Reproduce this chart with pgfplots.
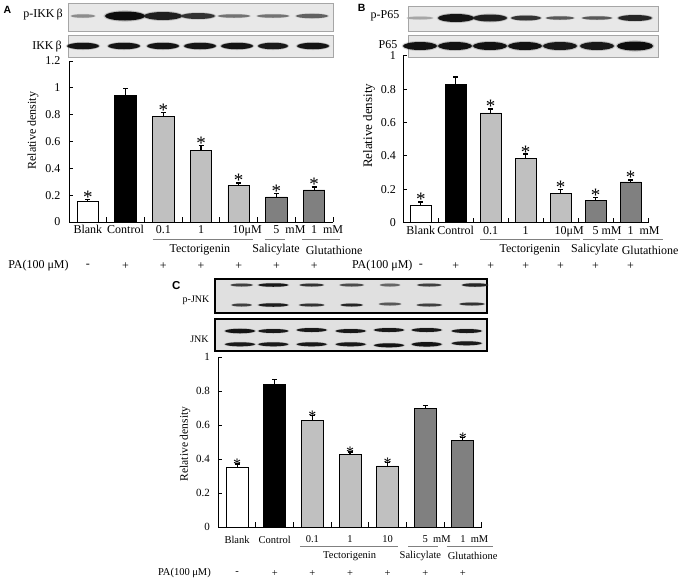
\documentclass[border=0pt]{standalone}
\usepackage{pgfplots}
\pgfplotsset{compat=1.18}
\usepackage{fontspec}
\setmainfont{Liberation Serif}
\newfontfamily\panelfont{Liberation Sans}
\definecolor{lg}{HTML}{C0C0C0}
\definecolor{dg}{HTML}{808080}
\definecolor{blotbg}{HTML}{E8E8E8}
\definecolor{blotbgc}{HTML}{E0E0E0}
\newcommand{\fs}[1]{\fontsize{#1}{#1}\selectfont}
% blot band: x y w h intensity
\newcommand{\band}[5]{%
  \fill[black!#5,opacity=0.2] (#1pt,-#2pt) ellipse ({#3*0.54pt} and {#4*0.62pt});
  \fill[black!#5] (#1pt,-#2pt) ellipse ({#3*0.5pt} and {#4*0.5pt});}
\newcommand{\parow}[1]{%
  \node at ([yshift=#1]axis cs:0,0) {-};
  \node at ([yshift=#1]axis cs:1,0) {+};
  \node at ([yshift=#1]axis cs:2,0) {+};
  \node at ([yshift=#1]axis cs:3,0) {+};
  \node at ([yshift=#1]axis cs:4,0) {+};
  \node at ([yshift=#1]axis cs:5,0) {+};
  \node at ([yshift=#1]axis cs:6,0) {+};}
\tikzset{astar/.style={font=\fs{19}, anchor=base, yshift=-4pt, inner sep=0pt}}
\pgfplotsset{
  panel/.style={scale only axis, clip=false, ymin=0, xmin=-0.5, xmax=6.5,
    axis x line*=bottom, axis y line*=left,
    axis line style={line width=1pt},
    tick align=inside, major tick length=4pt,
    tick style={line width=1pt, black},
    xtick={0,...,6}, xtick style={draw=none},
    extra x ticks={-0.5,0.5,1.5,2.5,3.5,4.5,5.5,6.5},
    extra x tick labels={},
    extra x tick style={xtick style={draw=black}, major tick length=5pt},
  },
  bars/.style={ybar, bar width=#1, bar shift=0pt, draw=black, line width=0.8pt,
    error bars/y dir=plus, error bars/y explicit,
    error bars/error bar style={line width=1.2pt, black},
    error bars/error mark options={rotate=90, mark size=2.5pt, line width=1.2pt, black}},
}
\begin{document}
\begin{tikzpicture}
\useasboundingbox (0,0) rectangle (679pt,-579pt);
% ---------------- Panel A blots
\node[font=\panelfont\bfseries\fs{10.5}] at (7.5pt,-9.5pt) {A};
\filldraw[fill=blotbg, draw=gray!70, line width=0.8pt] (68pt,-3pt) rectangle (333pt,-31pt);
\filldraw[fill=blotbg, draw=gray!70, line width=0.8pt] (68pt,-35pt) rectangle (333pt,-57pt);
\node[font=\fs{12}] at (43pt,-15pt) {p-IKK\,β};
\node[font=\fs{12}] at (47pt,-47pt) {IKK\,β};
\band{83}{16}{24}{3.5}{45}
\band{125}{16}{40}{9}{95}
\band{163}{16}{38}{8}{88}
\band{198}{16}{34}{6}{80}
\band{234}{16}{32}{3.5}{55}
\band{273}{16}{32}{3.5}{55}
\band{312}{16}{32}{4.5}{62}
\band{83}{46}{32}{6.5}{92}
\band{124}{46}{32}{6.5}{92}
\band{163}{46}{32}{6.5}{92}
\band{200}{46}{32}{6.5}{92}
\band{237}{46}{32}{6.5}{92}
\band{273}{46}{30}{6.5}{90}
\band{313}{46}{32}{6.5}{92}
% ---------------- Panel B blots
\node[font=\panelfont\bfseries\fs{10.5}] at (361.7pt,-8pt) {B};
\filldraw[fill=blotbg, draw=gray!70, line width=0.8pt] (408pt,-6pt) rectangle (658pt,-31pt);
\filldraw[fill=blotbg, draw=gray!70, line width=0.8pt] (408pt,-35pt) rectangle (658pt,-57pt);
\node[font=\fs{12}] at (385pt,-16pt) {p-P65};
\node[font=\fs{12}] at (388pt,-45pt) {P65};
\band{420}{18}{26}{3}{35}
\band{456}{18}{36}{8}{92}
\band{490}{18}{34}{7}{88}
\band{526}{18}{30}{5}{80}
\band{560}{18}{28}{3.5}{65}
\band{597}{18}{30}{3.5}{65}
\band{635}{18}{34}{6}{85}
\band{420}{46}{34}{8}{93}
\band{455}{46}{34}{8}{93}
\band{490}{46}{34}{8}{93}
\band{525}{46}{34}{8}{93}
\band{560}{46}{34}{8}{90}
\band{597}{46}{34}{8}{90}
\band{635}{46}{36}{9}{95}
% ---------------- Panel C blots
\node[font=\panelfont\bfseries\fs{11.5}] at (176.3pt,-286pt) {C};
\filldraw[fill=blotbgc, draw=black, line width=1.8pt] (215pt,-279pt) rectangle (486.7pt,-313.3pt);
\filldraw[fill=blotbgc, draw=black, line width=1.8pt] (215pt,-319.3pt) rectangle (486.7pt,-350.7pt);
\node[font=\fs{10}] at (196pt,-300pt) {p-JNK};
\node[font=\fs{10}] at (199.5pt,-339pt) {JNK};
\band{241.7}{285}{22}{3}{75}
\band{273.3}{285}{30}{3.5}{90}
\band{311.7}{285}{24}{3}{80}
\band{351.7}{285}{24}{3}{70}
\band{390}{285}{20}{3}{60}
\band{429.3}{285}{24}{3}{75}
\band{475}{285}{26}{3.5}{85}
\band{241.7}{305}{20}{3}{75}
\band{273.3}{305}{30}{3.5}{88}
\band{311.7}{305}{25}{3}{80}
\band{351.7}{305}{22}{3}{85}
\band{390}{304}{22}{3}{65}
\band{429.3}{305}{25}{3}{75}
\band{472}{304}{25}{3}{80}
\band{240}{331}{30}{4.5}{92}
\band{273.3}{331}{30}{4}{90}
\band{311.7}{330}{30}{4}{90}
\band{350.7}{331}{30}{4}{90}
\band{389}{330}{30}{4}{90}
\band{426.7}{330}{30}{4}{90}
\band{466.7}{331}{30}{4}{90}
\band{240}{344.3}{30}{4}{90}
\band{273.3}{344.3}{30}{4}{90}
\band{311.7}{344.3}{30}{4}{90}
\band{350.7}{344.3}{30}{4}{90}
\band{389}{345.3}{30}{4}{92}
\band{426.7}{344.3}{30}{4.5}{92}
\band{466.7}{343.3}{30}{4}{90}

% ================= Axis A
\begin{axis}[panel, at={(69pt,-222pt)}, anchor=south west, width=264pt, height=161pt, ymax=1.2,
  ytick={0,0.2,0.4,0.6,0.8,1,1.2}, yticklabels={0,0.2,0.4,0.6,0.8,1,1.2},
  xticklabels={Blank,Control,0.1,1,10\rlap{μM},5\rlap{\ \ mM},1\rlap{\ \ mM}},
  ticklabel style={font=\fs{12}}, yticklabel style={xshift=-5pt},
  ylabel={Relative density},
  every axis y label/.style={at={(axis description cs:-0.136,0.568)}, rotate=90, anchor=center, font=\fs{12}}]
\addplot[bars=21.5pt, fill=white] coordinates {(0,0.155) +- (0,0.015)};
\addplot[bars=21.5pt, fill=black] coordinates {(1,0.943) +- (0,0.055)};
\addplot[bars=21.5pt, fill=lg] coordinates {(2,0.784) +- (0,0.035) (3,0.535) +- (0,0.035) (4,0.271) +- (0,0.020)};
\addplot[bars=21.5pt, fill=dg] coordinates {(5,0.187) +- (0,0.024) (6,0.239) +- (0,0.022)};
\node[astar] at (axis cs:0,0.170) {*};
\node[astar] at (axis cs:2,0.819) {*};
\node[astar] at (axis cs:3,0.570) {*};
\node[astar] at (axis cs:4,0.291) {*};
\node[astar] at (axis cs:5,0.211) {*};
\node[astar] at (axis cs:6,0.261) {*};
\draw[gray, line width=0.8pt] ([yshift=-17pt]axis cs:1.72,0) -- ([yshift=-17pt]axis cs:4.38,0);
\draw[gray, line width=0.8pt] ([yshift=-17pt]axis cs:4.69,0) -- ([yshift=-17pt]axis cs:5.22,0);
\draw[gray, line width=0.8pt] ([yshift=-17pt]axis cs:5.68,0) -- ([yshift=-17pt]axis cs:6.68,0);
\begin{scope}[font=\fs{12}]
\node at ([yshift=-28pt]axis cs:2.97,0) {Tectorigenin};
\node at ([yshift=-28pt]axis cs:4.99,0) {Salicylate};
\node at ([yshift=-28pt]axis cs:6.53,0) {Glutathione};
\node at ([yshift=-43.7pt]axis cs:-1.31,0) {PA(100 μM)};
\parow{-43.7pt}
\end{scope}
\end{axis}

% ================= Axis B
\begin{axis}[panel, at={(403.3pt,-222.7pt)}, anchor=south west, width=244.7pt, height=167pt, ymax=1,
  ytick={0,0.2,0.4,0.6,0.8,1}, yticklabels={0,0.2,0.4,0.6,0.8,1},
  xticklabels={Blank,Control,0.1,1,10\rlap{μM},5\rlap{\ mM},1\rlap{\ \ mM}},
  ticklabel style={font=\fs{12}}, yticklabel style={xshift=-4pt},
  ylabel={Relative density},
  every axis y label/.style={at={(axis description cs:-0.14,0.58)}, rotate=90, anchor=center, font=\fs{13}}]
\addplot[bars=21pt, fill=white] coordinates {(0,0.102) +- (0,0.022)};
\addplot[bars=21pt, fill=black] coordinates {(1,0.829) +- (0,0.043)};
\addplot[bars=21pt, fill=lg] coordinates {(2,0.657) +- (0,0.024) (3,0.383) +- (0,0.028) (4,0.176) +- (0,0.024)};
\addplot[bars=21pt, fill=dg] coordinates {(5,0.132) +- (0,0.018) (6,0.244) +- (0,0.012)};
\node[astar] at (axis cs:0,0.124) {*};
\node[astar] at (axis cs:2,0.681) {*};
\node[astar] at (axis cs:3,0.411) {*};
\node[astar] at (axis cs:4,0.200) {*};
\node[astar] at (axis cs:5,0.150) {*};
\node[astar] at (axis cs:6,0.256) {*};
\draw[gray, line width=0.8pt] ([yshift=-16.3pt]axis cs:1.69,0) -- ([yshift=-16.3pt]axis cs:4.55,0);
\draw[gray, line width=0.8pt] ([yshift=-16.3pt]axis cs:4.64,0) -- ([yshift=-16.3pt]axis cs:5.55,0);
\draw[gray, line width=0.8pt] ([yshift=-16.3pt]axis cs:5.64,0) -- ([yshift=-16.3pt]axis cs:6.93,0);
\begin{scope}[font=\fs{12}]
\node at ([yshift=-27.3pt]axis cs:3.12,0) {Tectorigenin};
\node at ([yshift=-27.3pt]axis cs:4.98,0) {Salicylate};
\node at ([yshift=-27.3pt]axis cs:6.56,0) {Glutathione};
\node at ([yshift=-43pt]axis cs:-1.10,0) {PA(100 μM)};
\parow{-43pt}
\end{scope}
\end{axis}

% ================= Axis C
\begin{axis}[panel, at={(218.3pt,-527.3pt)}, anchor=south west, width=263.4pt, height=170pt, ymax=1,
  ytick={0,0.2,0.4,0.6,0.8,1}, yticklabels={0,0.2,0.4,0.6,0.8,1},
  xticklabels={Blank,Control,0.1,1,10,5\rlap{\ \ mM},1\rlap{\ \ mM}},
  ticklabel style={font=\fs{11}}, yticklabel style={xshift=-5pt},
  xticklabel style={font=\fs{10.5}, yshift=-5pt},
  ylabel={Relative density},
  every axis y label/.style={at={(axis description cs:-0.126,0.49)}, rotate=90, anchor=center, font=\fs{11.5}}]
\addplot[bars=22pt, fill=white] coordinates {(0,0.351) +- (0,0.021)};
\addplot[bars=22pt, fill=black] coordinates {(1,0.841) +- (0,0.030)};
\addplot[bars=22pt, fill=lg] coordinates {(2,0.629) +- (0,0.028) (3,0.431) +- (0,0.012) (4,0.361) +- (0,0.019)};
\addplot[bars=22pt, fill=dg] coordinates {(5,0.700) +- (0,0.018) (6,0.512) +- (0,0.015)};
\node[astar, yshift=-1.5pt, font=\fs{16}] at (axis cs:0,0.372) {*};
\node[astar, yshift=-1.5pt, font=\fs{16}] at (axis cs:2,0.657) {*};
\node[astar, yshift=-1.5pt, font=\fs{16}] at (axis cs:3,0.443) {*};
\node[astar, yshift=-1.5pt, font=\fs{16}] at (axis cs:4,0.380) {*};
\node[astar, yshift=-1.5pt, font=\fs{16}] at (axis cs:6,0.527) {*};
\draw[gray, line width=0.8pt] ([yshift=-19.4pt]axis cs:1.67,0) -- ([yshift=-19.4pt]axis cs:4.28,0);
\draw[gray, line width=0.8pt] ([yshift=-19.4pt]axis cs:4.55,0) -- ([yshift=-19.4pt]axis cs:5.35,0);
\draw[gray, line width=0.8pt] ([yshift=-19.4pt]axis cs:5.57,0) -- ([yshift=-19.4pt]axis cs:6.8,0);
\begin{scope}[font=\fs{10.5}]
\node at ([yshift=-28.7pt]axis cs:2.99,0) {Tectorigenin};
\node at ([yshift=-28.7pt]axis cs:4.87,0) {Salicylate};
\node at ([yshift=-28.7pt]axis cs:6.26,0) {Glutathione};
\node at ([yshift=-46pt]axis cs:-1.40,0) {PA(100 μM)};
\parow{-46pt}
\end{scope}
\end{axis}
\end{tikzpicture}
\end{document}
